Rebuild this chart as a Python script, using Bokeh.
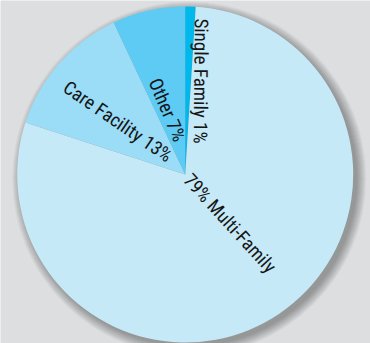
import math
from bokeh.plotting import figure
from bokeh.models import ColumnDataSource
from bokeh.core.properties import value
from bokeh.embed import file_html
from bokeh.resources import INLINE

# ---- data ----
categories = ["Single Family", "Multi-Family", "Care Facility", "Other"]
percents = [1, 79, 13, 7]
labels = ["Single Family 1%", "79% Multi-Family", "Care Facility 13%", "Other 7%"]
colors = ["#00b8ec", "#c6e9f8", "#9bdcf7", "#5ecbf5"]

# ---- layout (pixels; pie centre at 0,0) ----
R = 168
label_dx = [15, 2, -15, -5]
label_dy = [31, -2, 17, 34]
label_rot = [-90.5, -47.6, -34.5, -67.0]
label_align = ["right", "left", "right", "right"]

total = float(sum(percents))
starts, ends = [], []
cum = 0.0
for v in percents:
    starts.append(math.radians(90 - cum / total * 360))
    cum += v
    ends.append(math.radians(90 - cum / total * 360))

p = figure(width=370, height=343, x_range=(-184.7, 185.3), y_range=(-169, 174),
           output_backend="svg", toolbar_location=None, min_border=0,
           background_fill_color="#dcdee0", border_fill_color="#dcdee0")
p.axis.visible = False
p.grid.visible = False
p.outline_line_color = None

# soft shadow
for k in range(10):
    p.circle(x=4, y=-4, radius=R + k, fill_color="black", fill_alpha=0.035, line_color=None)

src = ColumnDataSource(dict(start=starts, end=ends, color=colors, cat=categories))
p.wedge(x=0, y=0, radius=R, start_angle="start", end_angle="end", direction="clock",
        fill_color="color", line_color=None, source=src)

tsrc = ColumnDataSource(dict(x=label_dx, y=label_dy, text=labels,
                             angle=[math.radians(a) for a in label_rot], align=label_align))
p.text(x="x", y="y", text="text", angle="angle", text_align="align", text_baseline="middle",
       text_font=value("Roboto Condensed, Roboto"),
       text_font_size="19px", text_color="#151515", source=tsrc)

open("out.html", "w").write(file_html(p, INLINE))
